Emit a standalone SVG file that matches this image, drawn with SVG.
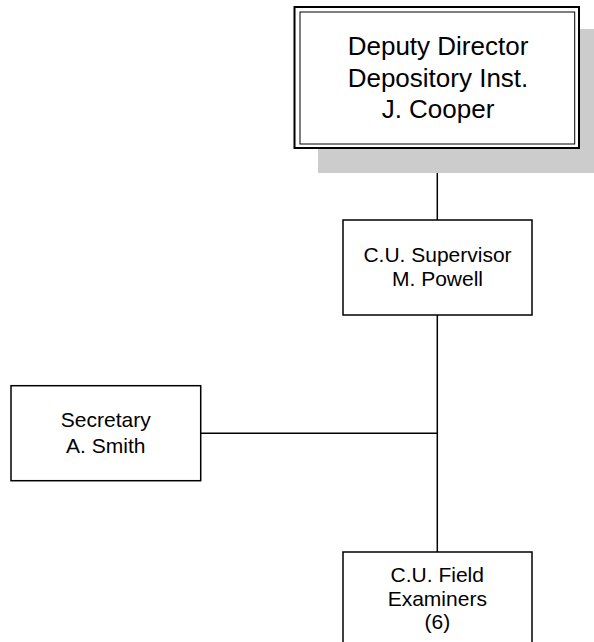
<svg xmlns="http://www.w3.org/2000/svg" width="594" height="642" viewBox="0 0 594 642">
<style>
.box{fill:#ffffff;stroke:#000000;stroke-width:1.5}
.t{font-family:"Liberation Sans",Arial,sans-serif;font-size:21px;fill:#000000;text-anchor:middle}
.tb{font-family:"Liberation Sans",Arial,sans-serif;font-size:26px;fill:#000000;text-anchor:middle}
.conn{stroke:#000000;stroke-width:1.5;fill:none}
</style>
<rect x="0" y="0" width="594" height="642" fill="#ffffff"/>
<g id="connectors">
<line class="conn" x1="437.3" y1="148" x2="437.3" y2="220"/>
<line class="conn" x1="437.3" y1="315" x2="437.3" y2="552"/>
<line class="conn" x1="200.7" y1="433.3" x2="437.3" y2="433.3"/>
</g>
<g id="deputy-director">
<rect x="318" y="29" width="276" height="144" fill="#cccccc"/>
<rect x="294.5" y="7" width="284.5" height="141" fill="#ffffff" stroke="#000000" stroke-width="2"/>
<rect x="300" y="12" width="274.7" height="132" fill="none" stroke="#000000" stroke-width="1"/>
<text class="tb" x="438" y="55">Deputy Director</text>
<text class="tb" x="438" y="87">Depository Inst.</text>
<text class="tb" x="438" y="118">J. Cooper</text>
</g>
<g id="cu-supervisor">
<rect class="box" x="343" y="220" width="189" height="95"/>
<text class="t" x="437.5" y="262">C.U. Supervisor</text>
<text class="t" x="437.5" y="286">M. Powell</text>
</g>
<g id="secretary">
<rect class="box" x="11" y="385.7" width="189.7" height="95"/>
<text class="t" x="105.8" y="427.3">Secretary</text>
<text class="t" x="105.8" y="452.7">A. Smith</text>
</g>
<g id="field-examiners">
<rect class="box" x="343" y="552" width="189" height="100"/>
<text class="t" x="437.3" y="582">C.U. Field</text>
<text class="t" x="437.3" y="606">Examiners</text>
<text class="t" x="437.3" y="628.5">(6)</text>
</g>
</svg>
